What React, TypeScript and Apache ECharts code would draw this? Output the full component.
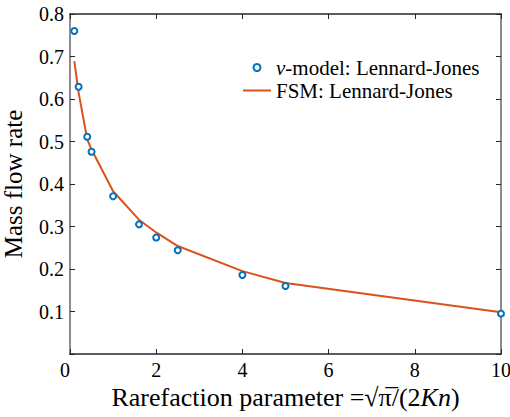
import React, { useEffect, useRef } from "react";
import * as echarts from "echarts";

const scatterName = "ν-model: Lennard-Jones";
const lineName = "FSM: Lennard-Jones";
const modelX = [0.1, 0.2, 0.4, 0.5, 1.0, 1.6, 2.0, 2.5, 4.0, 5.0, 10.0];
const modelY = [0.76, 0.629, 0.511, 0.476, 0.371, 0.305, 0.274, 0.244, 0.186, 0.16, 0.095];
const fsmX = [0.1, 0.2, 0.4, 0.5, 1.0, 1.6, 2.0, 2.5, 4.0, 5.0, 10.0];
const fsmY = [0.689, 0.615, 0.505, 0.481, 0.383, 0.316, 0.286, 0.254, 0.195, 0.167, 0.098];
const xTicks = { min: 0, max: 10, interval: 2 };
const yTicks = { min: 0, max: 0.8, interval: 0.1 };

const FONT = "'Liberation Serif', 'Times New Roman', serif";
const BLUE = "#0072BD";
const ORANGE = "#D95319";
const DARK = "#262626";
const GRAY = "#8c8c8c";

export default function App() {
  const ref = useRef<HTMLDivElement>(null);
  useEffect(() => {
    if (!ref.current) return;
    const chart = echarts.init(ref.current, undefined, { renderer: "svg" });
    const scatterData = modelX.map((x, i) => [x, modelY[i]]);
    const lineData = fsmX.map((x, i) => [x, fsmY[i]]);
    chart.setOption({
      animation: false,
      backgroundColor: "#ffffff",
      textStyle: { fontFamily: FONT },
      grid: {
        left: 70,
        top: 14,
        right: 9,
        bottom: 63,
        containLabel: false,
        outerBoundsMode: "none",
      },
      legend: {
        orient: "vertical",
        left: 238,
        top: 52,
        itemWidth: 28,
        itemHeight: 7,
        itemGap: 2,
        symbolKeepAspect: true,
        textStyle: {
          fontFamily: FONT,
          fontSize: 21,
          color: "#000",
          rich: {
            i: { fontFamily: FONT, fontSize: 21, fontStyle: "italic", color: "#000" },
            n: { fontFamily: FONT, fontSize: 21, color: "#000" },
          },
        },
        formatter: (name: string) =>
          name === scatterName ? "{i|ν}{n|-model: Lennard-Jones}" : name,
        data: [
          { name: scatterName },
          { name: lineName, icon: "path://M0,0 L28,0 L28,2 L0,2 Z" },
        ],
      },
      xAxis: [
        {
          type: "value",
          position: "bottom",
          min: xTicks.min,
          max: xTicks.max,
          interval: xTicks.interval,
          axisLine: { show: true, onZero: false, lineStyle: { color: DARK, width: 1.5 } },
          axisTick: { show: true, inside: true, length: 5, lineStyle: { color: DARK } },
          splitLine: { show: false },
          axisLabel: {
            fontFamily: FONT,
            fontSize: 20,
            color: "#000",
            margin: 6,
            alignMinLabel: "right",
          },
          name: "{a|Rarefaction parameter =√π̅/(2}{b|Kn}{a|)}",
          nameLocation: "middle",
          nameGap: 29,
          nameTextStyle: {
            fontFamily: FONT,
            rich: {
              a: { fontFamily: FONT, fontSize: 26, color: "#000" },
              b: { fontFamily: FONT, fontSize: 26, fontStyle: "italic", color: "#000" },
            },
          },
        },
        {
          type: "value",
          position: "top",
          min: xTicks.min,
          max: xTicks.max,
          interval: xTicks.interval,
          axisLine: { show: true, onZero: false, lineStyle: { color: DARK, width: 1.5 } },
          axisTick: { show: true, inside: true, length: 5, lineStyle: { color: DARK } },
          splitLine: { show: false },
          axisLabel: { show: false },
        },
      ],
      yAxis: [
        {
          type: "value",
          position: "left",
          min: yTicks.min,
          max: yTicks.max,
          interval: yTicks.interval,
          axisLine: { show: true, onZero: false, lineStyle: { color: GRAY, width: 2 } },
          axisTick: { show: true, inside: true, length: 5, lineStyle: { color: DARK } },
          splitLine: { show: false },
          axisLabel: {
            fontFamily: FONT,
            fontSize: 20,
            color: "#000",
            margin: 6,
            formatter: (v: number) => (v === 0 ? "" : v.toFixed(1)),
          },
          name: "Mass flow rate",
          nameLocation: "middle",
          nameGap: 44,
          nameTextStyle: { fontFamily: FONT, fontSize: 25, color: "#000" },
        },
        {
          type: "value",
          position: "right",
          min: yTicks.min,
          max: yTicks.max,
          interval: yTicks.interval,
          axisLine: { show: true, onZero: false, lineStyle: { color: GRAY, width: 2 } },
          axisTick: { show: true, inside: true, length: 5, lineStyle: { color: DARK } },
          splitLine: { show: false },
          axisLabel: { show: false },
        },
      ],
      series: [
        {
          name: lineName,
          type: "line",
          data: lineData,
          symbol: "none",
          showSymbol: false,
          lineStyle: { color: ORANGE, width: 2 },
          itemStyle: { color: ORANGE },
          z: 2,
        },
        {
          name: scatterName,
          type: "scatter",
          data: scatterData,
          symbol: "circle",
          symbolSize: 6,
          itemStyle: { color: "#ffffff", borderColor: BLUE, borderWidth: 2, opacity: 1 },
          z: 3,
        },
      ],
    });
    return () => chart.dispose();
  }, []);
  return (
    <div
      ref={ref}
      style={{ position: "fixed", left: 0, top: 0, width: 510, height: 417 }}
    />
  );
}
